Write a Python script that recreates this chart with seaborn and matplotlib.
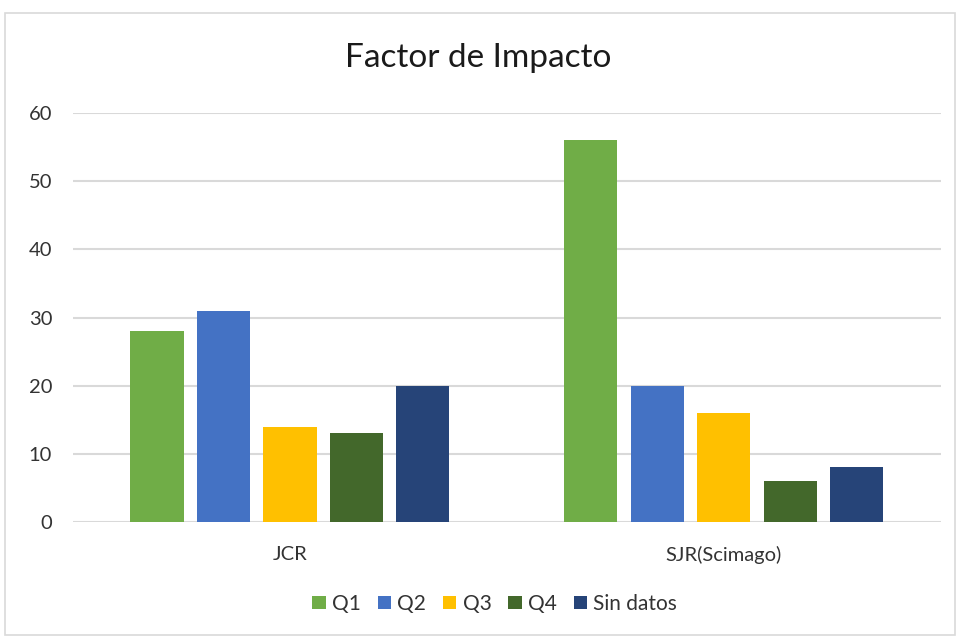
import numpy as np
import pandas as pd
import seaborn as sns
from matplotlib import pyplot as plt
from matplotlib.patches import Rectangle


# data
fuentes = ['JCR', 'SJR(Scimago)']
cuartiles = ['Q1', 'Q2', 'Q3', 'Q4', 'Sin datos']
jcr = [28, 31, 14, 13, 20]
sjr = [56, 20, 16, 6, 8]
colores = ['#70AD47', '#4472C4', '#FFC000', '#43682B', '#264478']

df = pd.DataFrame({
    'fuente': [fuentes[0]] * len(cuartiles) + [fuentes[1]] * len(cuartiles),
    'cuartil': cuartiles * 2,
    'valor': jcr + sjr,
})

sns.set_style("white")
plt.rcParams['font.family'] = ['Lato', 'DejaVu Sans']
texto = '#333333'

fig = plt.figure(figsize=(9.57, 6.37), dpi=100)
ax = fig.add_axes([0.0763, 0.1805, 0.9067, 0.6421])

sns.barplot(data=df, x='fuente', y='valor', hue='cuartil', hue_order=cuartiles,
            palette=colores, width=0.766, gap=0.2, saturation=1, linewidth=0,
            ax=ax, zorder=3)

ax.set_ylim(0, 60)
ax.set_xlim(-0.5, 1.5)
ax.set_yticks(np.arange(0, 61, 10))
ax.yaxis.grid(True, color='#d9d9d9', linewidth=1.5, zorder=0)
ax.set_axisbelow(True)
for s in ax.spines.values():
    s.set_visible(False)
ax.set_xlabel('')
ax.set_ylabel('')
ax.tick_params(axis='y', labelsize=14.5, colors=texto, length=0, pad=15)
ax.tick_params(axis='x', labelsize=14.5, colors=texto, length=0, pad=17)

fig.text(0.5, 0.909, 'Factor de Impacto', ha='center', va='center',
         fontsize=24, color='#1a1a1a')

ax.legend(loc='center', bbox_to_anchor=(0.486, -0.2), ncol=5, frameon=False,
          fontsize=15, handlelength=0.65, handleheight=0.65, handletextpad=0.3,
          columnspacing=0.8, labelcolor=texto)

fig.patches.append(Rectangle((5 / 957, 2 / 637), 950 / 957, 622 / 637,
                             transform=fig.transFigure, fill=False,
                             edgecolor='#d9d9d9', linewidth=1.2))

plt.savefig("out.png", dpi=100)
